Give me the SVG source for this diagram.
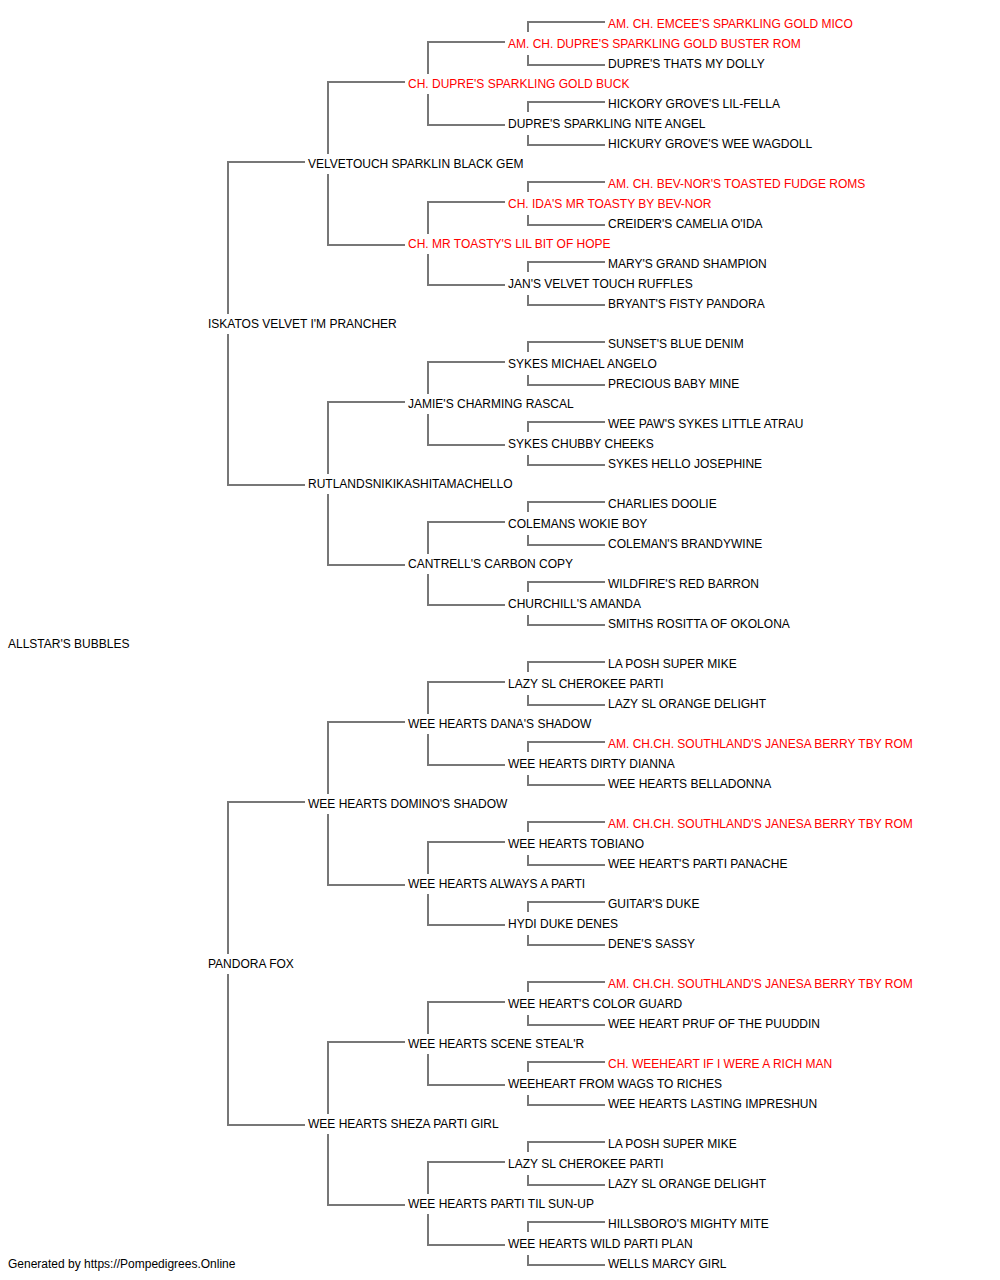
<svg xmlns="http://www.w3.org/2000/svg" width="1000" height="1280" viewBox="0 0 1000 1280">
<style>
text{font-family:"Liberation Sans",Arial,sans-serif;font-size:12px;fill:#000}
text.r{fill:#ff0000}
#connectors path{fill:none;stroke:#777;stroke-width:2}
</style>
<rect width="1000" height="1280" fill="#fff"/>
<g id="connectors">
<path d="M605,22H528V32M528,55V65H605"/>
<path d="M605,102H528V112M528,135V145H605"/>
<path d="M605,182H528V192M528,215V225H605"/>
<path d="M605,262H528V272M528,295V305H605"/>
<path d="M605,342H528V352M528,375V385H605"/>
<path d="M605,422H528V432M528,455V465H605"/>
<path d="M605,502H528V512M528,535V545H605"/>
<path d="M605,582H528V592M528,615V625H605"/>
<path d="M605,662H528V672M528,695V705H605"/>
<path d="M605,742H528V752M528,775V785H605"/>
<path d="M605,822H528V832M528,855V865H605"/>
<path d="M605,902H528V912M528,935V945H605"/>
<path d="M605,982H528V992M528,1015V1025H605"/>
<path d="M605,1062H528V1072M528,1095V1105H605"/>
<path d="M605,1142H528V1152M528,1175V1185H605"/>
<path d="M605,1222H528V1232M528,1255V1265H605"/>
<path d="M505,42H428V74M428,94V125H505"/>
<path d="M505,202H428V234M428,254V285H505"/>
<path d="M505,362H428V394M428,414V445H505"/>
<path d="M505,522H428V554M428,574V605H505"/>
<path d="M505,682H428V714M428,734V765H505"/>
<path d="M505,842H428V874M428,894V925H505"/>
<path d="M505,1002H428V1034M428,1054V1085H505"/>
<path d="M505,1162H428V1194M428,1214V1245H505"/>
<path d="M405,82H328V154M328,174V245H405"/>
<path d="M405,402H328V474M328,494V565H405"/>
<path d="M405,722H328V794M328,814V885H405"/>
<path d="M405,1042H328V1114M328,1134V1205H405"/>
<path d="M305,162H228V314M228,334V485H305"/>
<path d="M305,802H228V954M228,974V1125H305"/>
</g>
<g id="gen0"><text id="n0" x="8" y="648">ALLSTAR'S BUBBLES</text></g>
<g id="gen1">
<text id="n1" x="208" y="328">ISKATOS VELVET I'M PRANCHER</text>
<text id="n2" x="208" y="968">PANDORA FOX</text>
</g>
<g id="gen2">
<text x="308" y="168">VELVETOUCH SPARKLIN BLACK GEM</text>
<text x="308" y="488">RUTLANDSNIKIKASHITAMACHELLO</text>
<text x="308" y="808">WEE HEARTS DOMINO'S SHADOW</text>
<text x="308" y="1128">WEE HEARTS SHEZA PARTI GIRL</text>
</g>
<g id="gen3">
<text class="r" x="408" y="88">CH. DUPRE'S SPARKLING GOLD BUCK</text>
<text class="r" x="408" y="248">CH. MR TOASTY'S LIL BIT OF HOPE</text>
<text x="408" y="408">JAMIE'S CHARMING RASCAL</text>
<text x="408" y="568">CANTRELL'S CARBON COPY</text>
<text x="408" y="728">WEE HEARTS DANA'S SHADOW</text>
<text x="408" y="888">WEE HEARTS ALWAYS A PARTI</text>
<text x="408" y="1048">WEE HEARTS SCENE STEAL'R</text>
<text x="408" y="1208">WEE HEARTS PARTI TIL SUN-UP</text>
</g>
<g id="gen4">
<text class="r" x="508" y="48">AM. CH. DUPRE'S SPARKLING GOLD BUSTER ROM</text>
<text x="508" y="128">DUPRE'S SPARKLING NITE ANGEL</text>
<text class="r" x="508" y="208">CH. IDA'S MR TOASTY BY BEV-NOR</text>
<text x="508" y="288">JAN'S VELVET TOUCH RUFFLES</text>
<text x="508" y="368">SYKES MICHAEL ANGELO</text>
<text x="508" y="448">SYKES CHUBBY CHEEKS</text>
<text x="508" y="528">COLEMANS WOKIE BOY</text>
<text x="508" y="608">CHURCHILL'S AMANDA</text>
<text x="508" y="688">LAZY SL CHEROKEE PARTI</text>
<text x="508" y="768">WEE HEARTS DIRTY DIANNA</text>
<text x="508" y="848">WEE HEARTS TOBIANO</text>
<text x="508" y="928">HYDI DUKE DENES</text>
<text x="508" y="1008">WEE HEART'S COLOR GUARD</text>
<text x="508" y="1088">WEEHEART FROM WAGS TO RICHES</text>
<text x="508" y="1168">LAZY SL CHEROKEE PARTI</text>
<text x="508" y="1248">WEE HEARTS WILD PARTI PLAN</text>
</g>
<g id="gen5">
<text class="r" x="608" y="28">AM. CH. EMCEE'S SPARKLING GOLD MICO</text>
<text x="608" y="68">DUPRE'S THATS MY DOLLY</text>
<text x="608" y="108">HICKORY GROVE'S LIL-FELLA</text>
<text x="608" y="148">HICKURY GROVE'S WEE WAGDOLL</text>
<text class="r" x="608" y="188">AM. CH. BEV-NOR'S TOASTED FUDGE ROMS</text>
<text x="608" y="228">CREIDER'S CAMELIA O'IDA</text>
<text x="608" y="268">MARY'S GRAND SHAMPION</text>
<text x="608" y="308">BRYANT'S FISTY PANDORA</text>
<text x="608" y="348">SUNSET'S BLUE DENIM</text>
<text x="608" y="388">PRECIOUS BABY MINE</text>
<text x="608" y="428">WEE PAW'S SYKES LITTLE ATRAU</text>
<text x="608" y="468">SYKES HELLO JOSEPHINE</text>
<text x="608" y="508">CHARLIES DOOLIE</text>
<text x="608" y="548">COLEMAN'S BRANDYWINE</text>
<text x="608" y="588">WILDFIRE'S RED BARRON</text>
<text x="608" y="628">SMITHS ROSITTA OF OKOLONA</text>
<text x="608" y="668">LA POSH SUPER MIKE</text>
<text x="608" y="708">LAZY SL ORANGE DELIGHT</text>
<text class="r" x="608" y="748">AM. CH.CH. SOUTHLAND'S JANESA BERRY TBY ROM</text>
<text x="608" y="788">WEE HEARTS BELLADONNA</text>
<text class="r" x="608" y="828">AM. CH.CH. SOUTHLAND'S JANESA BERRY TBY ROM</text>
<text x="608" y="868">WEE HEART'S PARTI PANACHE</text>
<text x="608" y="908">GUITAR'S DUKE</text>
<text x="608" y="948">DENE'S SASSY</text>
<text class="r" x="608" y="988">AM. CH.CH. SOUTHLAND'S JANESA BERRY TBY ROM</text>
<text x="608" y="1028">WEE HEART PRUF OF THE PUUDDIN</text>
<text class="r" x="608" y="1068">CH. WEEHEART IF I WERE A RICH MAN</text>
<text x="608" y="1108">WEE HEARTS LASTING IMPRESHUN</text>
<text x="608" y="1148">LA POSH SUPER MIKE</text>
<text x="608" y="1188">LAZY SL ORANGE DELIGHT</text>
<text x="608" y="1228">HILLSBORO'S MIGHTY MITE</text>
<text x="608" y="1268">WELLS MARCY GIRL</text>
</g>
<text id="footer" x="8" y="1268">Generated by https://Pompedigrees.Online</text>
</svg>
